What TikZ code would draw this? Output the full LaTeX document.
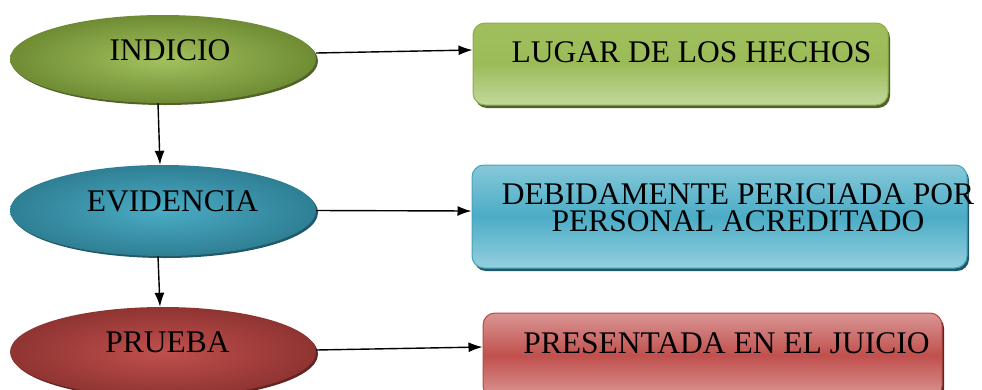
\documentclass[tikz,border=0pt]{standalone}
\usepackage{fontspec}
\setmainfont{Liberation Serif}
\usetikzlibrary{shapes.geometric,arrows.meta,shadows}
\definecolor{gIn}{HTML}{A3C25E}
\definecolor{gOut}{HTML}{6F8C34}
\definecolor{gDark}{HTML}{4F6228}
\definecolor{tIn}{HTML}{4AACC5}
\definecolor{tOut}{HTML}{2F7F94}
\definecolor{tDark}{HTML}{215968}
\definecolor{rIn}{HTML}{C0504D}
\definecolor{rOut}{HTML}{8F3432}
\definecolor{rDark}{HTML}{632523}
\definecolor{gTop}{HTML}{A0BE5C}
\definecolor{gMid}{HTML}{9BBB59}
\definecolor{gBot}{HTML}{C4D89C}
\definecolor{gLine}{HTML}{8DAF4A}
\definecolor{bTop}{HTML}{86C8D9}
\definecolor{bMid}{HTML}{4BACC6}
\definecolor{bBot}{HTML}{94CFDE}
\definecolor{bLine}{HTML}{45A3BC}
\definecolor{rTop}{HTML}{D99694}
\definecolor{rMid}{HTML}{C0504D}
\definecolor{rBot}{HTML}{DA9896}
\definecolor{rLine}{HTML}{B84A47}
\tikzset{
  ovalbox/.style n args={3}{ellipse, minimum width=306pt, minimum height=#1, inner sep=0pt,
    inner color=#2, outer color=#3},
  ovshadow/.style={general shadow={fill=#1, shadow xshift=2pt, shadow yshift=-2pt}},
  rectbox/.style n args={4}{rectangle, rounded corners=12pt, inner sep=0pt, draw=#4, line width=1pt,
    top color=#1, bottom color=#3, middle color=#2},
  lbl/.style={font=\fontsize{31.5pt}{27pt}\selectfont, inner sep=0pt, text=black},
  conn/.style={line width=1.4pt, -{Latex[length=14pt,width=10pt]}}
}
\begin{document}
\begin{tikzpicture}[x=1pt,y=-1pt]
\useasboundingbox (0,0) rectangle (982,389);
% ellipses
\node[ovalbox={88pt}{gIn}{gOut}, ovshadow=gDark] (ind) at (163,59) {};
\node[ovalbox={91pt}{tIn}{tOut}, ovshadow=tDark] (evi) at (163,210.5) {};
\node[ovalbox={90pt}{rIn}{rOut}, ovshadow=rDark] (pru) at (163,352) {};
% rectangles
\node[rectbox={gTop}{gMid}{gBot}{gLine}, minimum width=415pt, minimum height=82pt,
  general shadow={fill=gDark, shadow xshift=2pt, shadow yshift=-3pt}] (lug) at (680.5,64) {};
\node[rectbox={bTop}{bMid}{bBot}{bLine}, minimum width=495pt, minimum height=103pt,
  general shadow={fill=tDark, shadow xshift=2pt, shadow yshift=-3pt}] (deb) at (719.5,216.5) {};
\node[rectbox={rTop}{rMid}{rBot}{rLine}, minimum width=459pt, minimum height=85pt,
  general shadow={fill=rDark, shadow xshift=2pt, shadow yshift=-3pt}] (pre) at (712.5,355.5) {};
% texts
\node[lbl, anchor=base] (tind) at (170,60) {INDICIO};
\node[lbl, anchor=base] (tevi) at (172.5,211) {EVIDENCIA};
\node[lbl, anchor=base] (tpru) at (167.5,352) {PRUEBA};
\node[lbl, anchor=base] (tlug) at (691.5,62) {LUGAR DE LOS HECHOS};
\node[lbl, align=center] (tdeb) at (738,208) {DEBIDAMENTE PERICIADA POR\\PERSONAL ACREDITADO};
\node[lbl, anchor=base] (tpre) at (726.5,353) {PRESENTADA EN EL JUICIO};
% connectors
\draw[conn] ([yshift=6pt]ind.east) -- ([yshift=14pt]lug.west);
\draw[conn] (evi.east) -- ([yshift=5.5pt]deb.west);
\draw[conn] ([yshift=2pt]pru.east) -- ([yshift=8.5pt]pre.west);
\draw[conn] ([xshift=-5pt]ind.south) -- ([xshift=-3pt]evi.north);
\draw[conn] ([xshift=-5pt]evi.south) -- ([xshift=-3pt]pru.north);
\end{tikzpicture}
\end{document}
